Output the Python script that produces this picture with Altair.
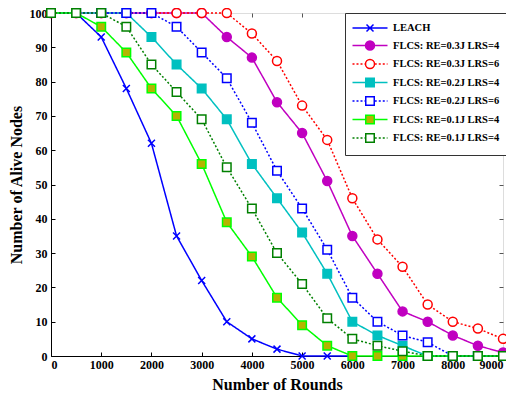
import altair as alt
import pandas as pd

rounds = [0, 500, 1000, 1500, 2000, 2500, 3000, 3500, 4000, 4500, 5000,
          5500, 6000, 6500, 7000, 7500, 8000, 8500, 9000]

series_names = ["LEACH", "FLCS: RE=0.3J LRS=4", "FLCS: RE=0.3J LRS=6",
                "FLCS: RE=0.2J LRS=4", "FLCS: RE=0.2J LRS=6",
                "FLCS: RE=0.1J LRS=4", "FLCS: RE=0.1J LRS=4 "]

leach = [100, 100, 93, 78, 62, 35, 22, 10, 5, 2, 0, 0, 0]
re03_lrs4 = [100, 100, 100, 100, 100, 100, 100, 93, 87, 74, 65, 51, 35, 24, 13, 10, 6, 3, 1]
re03_lrs6 = [100, 100, 100, 100, 100, 100, 100, 100, 94, 86, 73, 63, 46, 34, 26, 15, 10, 8, 5]
re02_lrs4 = [100, 100, 100, 100, 93, 85, 78, 69, 56, 46, 36, 24, 10, 6, 3, 0, 0, 0, 0]
re02_lrs6 = [100, 100, 100, 100, 100, 96, 88.5, 81, 68, 54, 43, 31, 17, 10, 6, 4, 0, 0, 0]
re01_lrs4 = [100, 100, 96, 88.5, 78, 70, 56, 39, 29, 17, 9, 3, 0, 0, 0, 0, 0, 0, 0]
re01_lrs4b = [100, 100, 100, 96, 85, 77, 69, 55, 43, 30, 21, 11, 5, 3, 1.4, 0, 0, 0, 0]

all_values = [leach, re03_lrs4, re03_lrs6, re02_lrs4, re02_lrs6, re01_lrs4, re01_lrs4b]

rows = []
for name, vals in zip(series_names, all_values):
    for r, v in zip(rounds, vals):
        rows.append({"series": name, "rounds": r, "nodes": v})
df = pd.DataFrame(rows)

# styles
stroke_colors = ["#0000FF", "#C000C0", "#FF0000", "#00C0C0", "#0000FF", "#00FF00", "#008000"]
fill_colors = ["#0000FF", "#C000C0", "#FFFFFF", "#00C0C0", "#FFFFFF", "#B4B400", "#FFFFFF"]
dashes = [[1, 0], [1, 0], [2, 2], [1, 0], [2, 2], [1, 0], [2, 2]]
dotted = [False, False, True, False, True, False, True]

CROSS = "M-0.7,-0.7L0.7,0.7M-0.7,0.7L0.7,-0.7"
CIRCLE = "M0.9,0A0.9,0.9 0 1,1 -0.9,0A0.9,0.9 0 1,1 0.9,0Z"
SQUARE = "M-0.85,-0.85H0.85V0.85H-0.85Z"
markers = [CROSS, CIRCLE, CIRCLE, SQUARE, SQUARE, SQUARE, SQUARE]


def seg_line(a, b, is_dotted):
    if not is_dotted:
        return f"M{a},0H{b}"
    out = []
    x = a
    while x < b - 1e-9:
        e = min(x + 0.4, b)
        out.append(f"M{x:.2f},0H{e:.2f}")
        x += 0.8
    return "".join(out)


legend_shapes = []
for m, d, nm in zip(markers, dotted, series_names):
    if m == CROSS:
        line = seg_line(-3.5, 3.5, d)
    else:
        line = seg_line(-3.5, -0.95, d) + seg_line(0.95, 3.5, d)
    legend_shapes.append(line + m)

FONT = "Liberation Serif"
W, H = 452, 343

x_scale = alt.Scale(domain=[0, 9000], nice=False)
y_scale = alt.Scale(domain=[0, 100], nice=False)
stroke_scale = alt.Scale(domain=series_names, range=stroke_colors)
fill_scale = alt.Scale(domain=series_names, range=fill_colors)

base = alt.Chart(df)

lines = base.mark_line(strokeWidth=1.5).encode(
    x=alt.X("rounds:Q", scale=x_scale,
            axis=alt.Axis(orient="bottom", values=list(range(0, 9001, 1000)), format="d",
                          title="Number of Rounds", ticks=False, grid=False,
                          domainColor="black", labelFont=FONT, labelFontWeight="bold",
                          labelFontSize=12, labelColor="black", labelPadding=3,
                          titleFont=FONT, titleFontWeight="bold", titleFontSize=16,
                          titleColor="black", titlePadding=6)),
    y=alt.Y("nodes:Q", scale=y_scale,
            axis=alt.Axis(orient="left", values=list(range(0, 101, 10)),
                          title="Number of Alive Nodes", ticks=False, grid=False,
                          domainColor="black", labelFont=FONT, labelFontWeight="bold",
                          labelFontSize=12, labelColor="black", labelPadding=4,
                          titleFont=FONT, titleFontWeight="bold", titleFontSize=16,
                          titleColor="black", titlePadding=5)),
    stroke=alt.Stroke("series:N", scale=stroke_scale, legend=None),
    strokeDash=alt.StrokeDash("series:N", scale=alt.Scale(domain=series_names, range=dashes), legend=None),
    detail="series:N",
)

points = base.mark_point(strokeWidth=1.5, opacity=1, size=100).encode(
    x=alt.X("rounds:Q", scale=x_scale,
            axis=alt.Axis(orient="top", offset=-H, labels=False, title=None, domain=False,
                          grid=False, tickSize=4, tickColor="black",
                          values=list(range(0, 9001, 1000)))),
    y=alt.Y("nodes:Q", scale=y_scale,
            axis=alt.Axis(orient="right", offset=-W, labels=False, title=None, domain=False,
                          grid=False, tickSize=4, tickColor="black",
                          values=list(range(0, 101, 10)))),
    stroke=alt.Stroke("series:N", scale=stroke_scale, legend=None),
    fill=alt.Fill("series:N", scale=fill_scale, legend=None),
    shape=alt.Shape("series:N", scale=alt.Scale(domain=series_names, range=markers), legend=None),
)

leg = alt.Legend(title=None, orient="none", legendX=294, legendY=0,
                 padding=9, symbolOffset=10, labelOffset=17, rowPadding=2.5,
                 strokeColor="#333333", fillColor="white", symbolSize=100,
                 symbolStrokeWidth=1.5, labelFont=FONT, labelFontWeight="bold",
                 labelFontSize=10.5, labelColor="black", labelLimit=0,
                 symbolType="circle")

legend_layer = base.mark_point(strokeWidth=1.5, opacity=1, size=100).encode(
    x=alt.X("rounds:Q", scale=x_scale,
            axis=alt.Axis(orient="bottom", offset=-H, labels=False, title=None, domain=False,
                          grid=False, tickSize=4, tickColor="#555555",
                          values=list(range(0, 9001, 1000)))),
    y=alt.Y("nodes:Q", scale=y_scale,
            axis=alt.Axis(orient="left", offset=-W, labels=False, title=None, domain=False,
                          grid=False, tickSize=4, tickColor="#555555",
                          values=list(range(0, 101, 10)))),
    stroke=alt.Stroke("series:N", scale=stroke_scale, legend=leg),
    fill=alt.Fill("series:N", scale=fill_scale, legend=leg),
    shape=alt.Shape("series:N", scale=alt.Scale(domain=series_names, range=legend_shapes), legend=leg),
).transform_filter("false")

chart = alt.layer(lines, points, legend_layer).resolve_scale(
    shape="independent"
).resolve_axis(
    x="independent", y="independent"
).resolve_legend(
    stroke="independent", fill="independent", shape="independent"
).properties(
    width=W, height=H,
    autosize=alt.AutoSizeParams(type="none"),
    padding={"left": 43, "top": 5, "right": 3, "bottom": 38},
).configure_view(
    stroke="#666666", strokeWidth=1
).configure(background="white")

chart.save("out.html", embed_options={"renderer": "svg", "actions": False})
